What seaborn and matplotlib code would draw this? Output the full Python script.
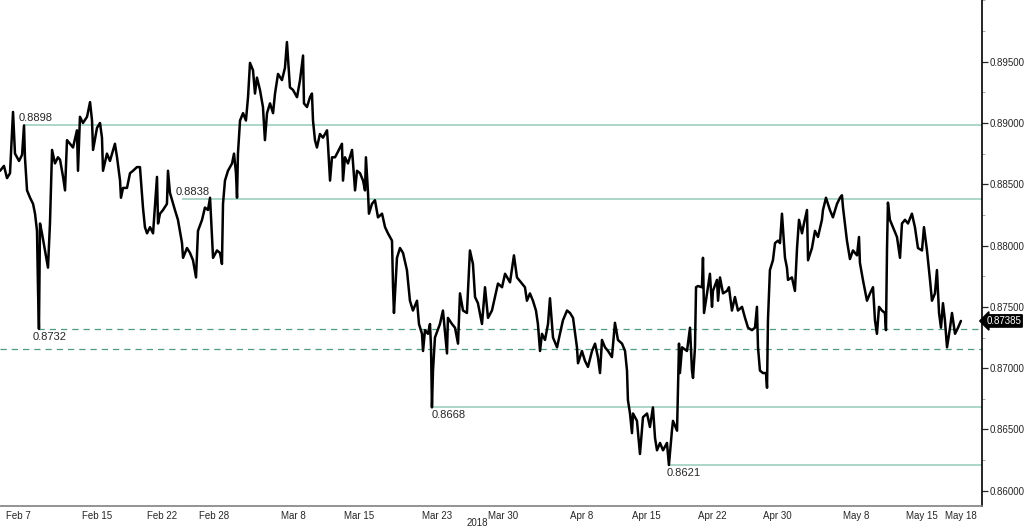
import numpy as np
import matplotlib
matplotlib.use("Agg")
import matplotlib.pyplot as plt
import matplotlib.ticker as mticker
import matplotlib.transforms as mtrans
import seaborn as sns

sns.set_style("white")
plt.rcParams['font.family'] = ['Liberation Sans', 'DejaVu Sans']

# ---- data: trading days since Feb 7 2018 (weekends skipped) and EUR/GBP price ----
days = [-1.37, -1.07, -0.84, -0.61, -0.38, -0.23, 0.08, 0.31, 0.46, 0.53,
        0.69, 0.92, 1.15, 1.30, 1.45, 1.53, 1.60, 1.68, 1.83, 2.06,
        2.29, 2.44, 2.60, 2.82, 3.05, 3.21, 3.44, 3.59, 3.74, 3.97,
        4.20, 4.50, 4.58, 4.73, 4.96, 5.27, 5.50, 5.65, 5.73, 6.03,
        6.26, 6.41, 6.49, 6.79, 7.02, 7.40, 7.56, 7.79, 7.86, 8.02,
        8.32, 8.55, 8.78, 9.08, 9.31, 9.54, 9.69, 9.85, 10.08, 10.31,
        10.61, 10.69, 10.84, 11.07, 11.37, 11.45, 11.60, 11.98, 12.21, 12.52,
        12.60, 12.90, 13.13, 13.36, 13.59, 13.74, 14.05, 14.27, 14.50, 14.66,
        14.81, 14.89, 15.19, 15.42, 15.57, 15.65, 15.80, 16.03, 16.34, 16.49,
        16.64, 16.72, 16.79, 16.95, 17.18, 17.40, 17.56, 17.71, 17.94, 18.09,
        18.24, 18.47, 18.70, 18.85, 19.01, 19.24, 19.47, 19.62, 19.85, 20.15,
        20.38, 20.53, 20.76, 20.99, 21.30, 21.53, 21.76, 21.83, 22.06, 22.29,
        22.44, 22.52, 22.67, 22.82, 23.05, 23.28, 23.59, 23.66, 23.82, 23.97,
        24.20, 24.35, 24.73, 24.81, 24.96, 25.19, 25.50, 25.73, 25.88, 26.11,
        26.34, 26.49, 26.56, 26.72, 26.79, 27.02, 27.25, 27.48, 27.79, 28.02,
        28.24, 28.55, 28.63, 28.70, 28.93, 29.16, 29.39, 29.69, 29.92, 30.15,
        30.46, 30.61, 30.84, 30.92, 31.07, 31.30, 31.45, 31.53, 31.60, 31.68,
        31.83, 32.21, 32.44, 32.75, 32.82, 33.13, 33.36, 33.59, 33.74, 33.97,
        34.27, 34.50, 34.73, 34.89, 35.11, 35.42, 35.65, 35.88, 36.18, 36.41,
        36.64, 36.95, 37.18, 37.56, 37.86, 38.09, 38.47, 38.70, 38.85, 39.08,
        39.31, 39.54, 39.69, 39.85, 40.00, 40.23, 40.46, 40.61, 40.84, 41.15,
        41.37, 41.60, 41.91, 42.14, 42.37, 42.67, 42.75, 43.05, 43.28, 43.51,
        43.82, 44.05, 44.27, 44.43, 44.58, 44.81, 45.04, 45.34, 45.57, 45.80,
        46.11, 46.34, 46.49, 46.56, 46.72, 46.87, 46.95, 47.25, 47.48, 47.71,
        48.02, 48.24, 48.47, 48.63, 48.78, 49.01, 49.24, 49.54, 49.69, 49.92,
        50.00, 50.31, 50.46, 50.53, 50.69, 51.07, 51.30, 51.45, 51.53, 51.68,
        51.76, 51.91, 52.21, 52.29, 52.37, 52.60, 52.82, 52.98, 53.05, 53.36,
        53.44, 53.59, 53.82, 54.12, 54.27, 54.50, 54.73, 54.96, 55.27, 55.50,
        55.73, 56.03, 56.26, 56.41, 56.49, 56.64, 56.87, 57.10, 57.18, 57.25,
        57.40, 57.63, 57.79, 58.02, 58.17, 58.32, 58.55, 58.70, 58.78, 59.08,
        59.31, 59.47, 59.62, 59.85, 60.00, 60.23, 60.31, 60.61, 60.84, 61.07,
        61.37, 61.45, 61.68, 61.98, 62.21, 62.52, 62.75, 62.90, 62.98, 63.28,
        63.51, 63.74, 64.05, 64.20, 64.27, 64.50, 64.81, 65.04, 65.27, 65.42,
        65.57, 65.73, 65.95, 66.18, 66.26, 66.34, 66.41, 66.56, 66.79, 67.10,
        67.33, 67.48, 67.71, 67.94, 68.24, 68.47, 68.70, 69.01, 69.16, 69.39,
        69.62, 69.77, 70.00, 70.15, 70.31, 70.46, 70.61, 70.76, 70.92, 71.15,
        71.30, 71.53, 71.76, 71.98]

price = [0.8861, 0.8865, 0.8855, 0.8859, 0.8909, 0.8875, 0.8869, 0.8874, 0.8898, 0.8872,
         0.8845, 0.8839, 0.8834, 0.8826, 0.8812, 0.8763, 0.8732, 0.8818, 0.8810, 0.8796,
         0.8782, 0.8818, 0.8878, 0.8867, 0.8872, 0.8870, 0.8856, 0.8845, 0.8886, 0.8883,
         0.8880, 0.8894, 0.8861, 0.8905, 0.8900, 0.8905, 0.8917, 0.8902, 0.8878, 0.8896,
         0.8900, 0.8888, 0.8861, 0.8875, 0.8869, 0.8883, 0.8872, 0.8853, 0.8839, 0.8847,
         0.8847, 0.8859, 0.8861, 0.8864, 0.8864, 0.8831, 0.8815, 0.8810, 0.8815, 0.8810,
         0.8856, 0.8818, 0.8826, 0.8829, 0.8834, 0.8861, 0.8843, 0.8829, 0.8821, 0.8802,
         0.8790, 0.8798, 0.8794, 0.8788, 0.8774, 0.8812, 0.8821, 0.8831, 0.8829, 0.8839,
         0.8807, 0.8790, 0.8796, 0.8794, 0.8785, 0.8834, 0.8853, 0.8861, 0.8867, 0.8875,
         0.8859, 0.8839, 0.8875, 0.8902, 0.8908, 0.8902, 0.8921, 0.8949, 0.8943, 0.8924,
         0.8937, 0.8927, 0.8913, 0.8886, 0.8908, 0.8916, 0.8908, 0.8924, 0.8940, 0.8935,
         0.8945, 0.8966, 0.8929, 0.8927, 0.8921, 0.8935, 0.8955, 0.8916, 0.8913, 0.8921,
         0.8924, 0.8902, 0.8886, 0.8880, 0.8891, 0.8888, 0.8894, 0.8883, 0.8853, 0.8872,
         0.8872, 0.8875, 0.8883, 0.8853, 0.8872, 0.8867, 0.8878, 0.8845, 0.8861, 0.8859,
         0.8853, 0.8845, 0.8872, 0.8843, 0.8826, 0.8834, 0.8837, 0.8823, 0.8826, 0.8815,
         0.8810, 0.8804, 0.8766, 0.8745, 0.8790, 0.8798, 0.8794, 0.8780, 0.8755, 0.8747,
         0.8755, 0.8736, 0.8728, 0.8714, 0.8731, 0.8728, 0.8736, 0.8717, 0.8668, 0.8698,
         0.8725, 0.8736, 0.8747, 0.8712, 0.8741, 0.8736, 0.8733, 0.8720, 0.8761, 0.8747,
         0.8745, 0.8796, 0.8785, 0.8758, 0.8753, 0.8736, 0.8766, 0.8741, 0.8747, 0.8758,
         0.8769, 0.8766, 0.8777, 0.8770, 0.8792, 0.8774, 0.8769, 0.8766, 0.8755, 0.8761,
         0.8755, 0.8747, 0.8736, 0.8714, 0.8728, 0.8723, 0.8736, 0.8757, 0.8725, 0.8717,
         0.8728, 0.8739, 0.8747, 0.8745, 0.8741, 0.8717, 0.8704, 0.8714, 0.8706, 0.8701,
         0.8714, 0.8720, 0.8709, 0.8696, 0.8723, 0.8717, 0.8714, 0.8709, 0.8737, 0.8723,
         0.8720, 0.8714, 0.8698, 0.8674, 0.8663, 0.8647, 0.8663, 0.8657, 0.8630, 0.8660,
         0.8663, 0.8652, 0.8668, 0.8643, 0.8633, 0.8639, 0.8633, 0.8639, 0.8621, 0.8649,
         0.8657, 0.8649, 0.8720, 0.8696, 0.8717, 0.8714, 0.8733, 0.8698, 0.8692, 0.8717,
         0.8766, 0.8767, 0.8766, 0.8790, 0.8745, 0.8761, 0.8777, 0.8750, 0.8763, 0.8772,
         0.8755, 0.8774, 0.8761, 0.8763, 0.8766, 0.8747, 0.8758, 0.8747, 0.8750, 0.8741,
         0.8733, 0.8731, 0.8733, 0.8750, 0.8717, 0.8698, 0.8696, 0.8696, 0.8684, 0.8739,
         0.8780, 0.8788, 0.8802, 0.8804, 0.8802, 0.8826, 0.8790, 0.8782, 0.8772, 0.8774,
         0.8763, 0.8798, 0.8821, 0.8810, 0.8818, 0.8829, 0.8788, 0.8798, 0.8812, 0.8807,
         0.8821, 0.8829, 0.8839, 0.8829, 0.8823, 0.8834, 0.8839, 0.8841, 0.8831, 0.8804,
         0.8789, 0.8796, 0.8792, 0.8807, 0.8786, 0.8772, 0.8755, 0.8761, 0.8766, 0.8739,
         0.8728, 0.8750, 0.8747, 0.8745, 0.8731, 0.8798, 0.8835, 0.8821, 0.8815, 0.8807,
         0.8790, 0.8818, 0.8821, 0.8818, 0.8826, 0.8815, 0.8798, 0.8796, 0.8815, 0.8796,
         0.8772, 0.8755, 0.8761, 0.8780, 0.8745, 0.8733, 0.8753, 0.8739, 0.8717, 0.8733,
         0.8745, 0.8728, 0.8733, 0.87385]

# horizontal levels (solid) with their labels
level_vals = [0.8898, 0.8838, 0.8668, 0.8621]
level_from = [0.46, 12.52, 31.60, 49.69]
level_label_x = [0.08, 12.06, 31.60, 49.54]
level_label_side = ['above', 'above', 'below', 'below']

# dashed levels
dash_vals = [0.8732, 0.8716]
dash_from = [1.53, -1.37]
dash_label_x = [1.15, None]

tick_dates = ['2018-02-07', '2018-02-15', '2018-02-22', '2018-02-28', '2018-03-08',
              '2018-03-15', '2018-03-23', '2018-03-30', '2018-04-08', '2018-04-15',
              '2018-04-22', '2018-04-30', '2018-05-08', '2018-05-15', '2018-05-18']
tick_labels = ['Feb 7', 'Feb 15', 'Feb 22', 'Feb 28', 'Mar 8', 'Mar 15', 'Mar 23',
               'Mar 30', 'Apr 8', 'Apr 15', 'Apr 22', 'Apr 30', 'May 8', 'May 15', 'May 18']
last_price = 0.87385

XMIN, XMAX = -1.374, 73.59
YMIN, YMAX = 0.85878, 0.90003
SOLID_C = '#94cbb5'
DASH_C = '#4f9b85'

fig = plt.figure(figsize=(10.24, 5.28), dpi=100)
ax = fig.add_axes([0, 1 - 505.7 / 528, 982 / 1024, 505.7 / 528])

for v, x0 in zip(level_vals, level_from):
    ax.hlines(v, x0, XMAX, color=SOLID_C, lw=1.1, zorder=1)
for v, x0 in zip(dash_vals, dash_from):
    ax.hlines(v, x0, XMAX, color=DASH_C, lw=0.9, linestyles=(0, (5, 4)), zorder=1)

sns.lineplot(x=days, y=price, color='black', lw=1.8, sort=False, estimator=None,
             ax=ax, zorder=3)

for v, lx, side in zip(level_vals, level_label_x, level_label_side):
    off = 1.5 if side == 'above' else -2
    ax.annotate(f'{v:.4f}', xy=(lx, v), xytext=(0, off), textcoords='offset points',
                ha='left', va='bottom' if side == 'above' else 'top', fontsize=8)
for v, lx in zip(dash_vals, dash_label_x):
    if lx is not None:
        ax.annotate(f'{v:.4f}', xy=(lx, v), xytext=(0, -2), textcoords='offset points',
                    ha='left', va='top', fontsize=8)

ax.set_xlim(XMIN, XMAX)
ax.set_ylim(YMIN, YMAX)

# x axis in trading days
tick_pos = np.busday_count('2018-02-07', tick_dates)
ax.set_xticks(tick_pos)
ax.set_xticklabels(tick_labels)
minor_pos = [d for d in range(0, 74, 2) if d not in set(tick_pos)]
ax.set_xticks(minor_pos, minor=True)
ax.tick_params(axis='x', which='both', direction='out', length=2, width=0.8,
               color='#555555', labelsize=7, pad=1.5)

trans = mtrans.blended_transform_factory(ax.transData, ax.transAxes)
ax.text(35.1, -0.034, '2018', transform=trans, ha='center', va='center', fontsize=7)

# y axis on the right
ax.yaxis.tick_right()
ax.yaxis.set_major_locator(mticker.FixedLocator(np.arange(0.86, 0.8951, 0.005)))
ax.yaxis.set_minor_locator(mticker.MultipleLocator(0.0025))
ax.yaxis.set_major_formatter(mticker.FormatStrFormatter('%.5f'))
ax.tick_params(axis='y', which='major', direction='out', length=4, width=0.9,
               labelsize=7, pad=1.5)
ax.tick_params(axis='y', which='minor', direction='out', length=2, width=0.6,
               color='#999999')

for s in ['left', 'top']:
    ax.spines[s].set_visible(False)
ax.spines['right'].set_color('black')
ax.spines['right'].set_linewidth(1.2)
ax.spines['bottom'].set_color('#808080')
ax.spines['bottom'].set_linewidth(1.2)
ax.set_xlabel('')
ax.set_ylabel('')

# last price tag
ax.annotate(f'{last_price:.5f}', xy=(1, last_price), xycoords=('axes fraction', 'data'),
            xytext=(3, 0), textcoords='offset points', ha='left', va='center',
            fontsize=7, color='white',
            bbox=dict(boxstyle='larrow,pad=0.12', fc='black', ec='black'))

fig.savefig('out.png', dpi=100)
plt.close(fig)
